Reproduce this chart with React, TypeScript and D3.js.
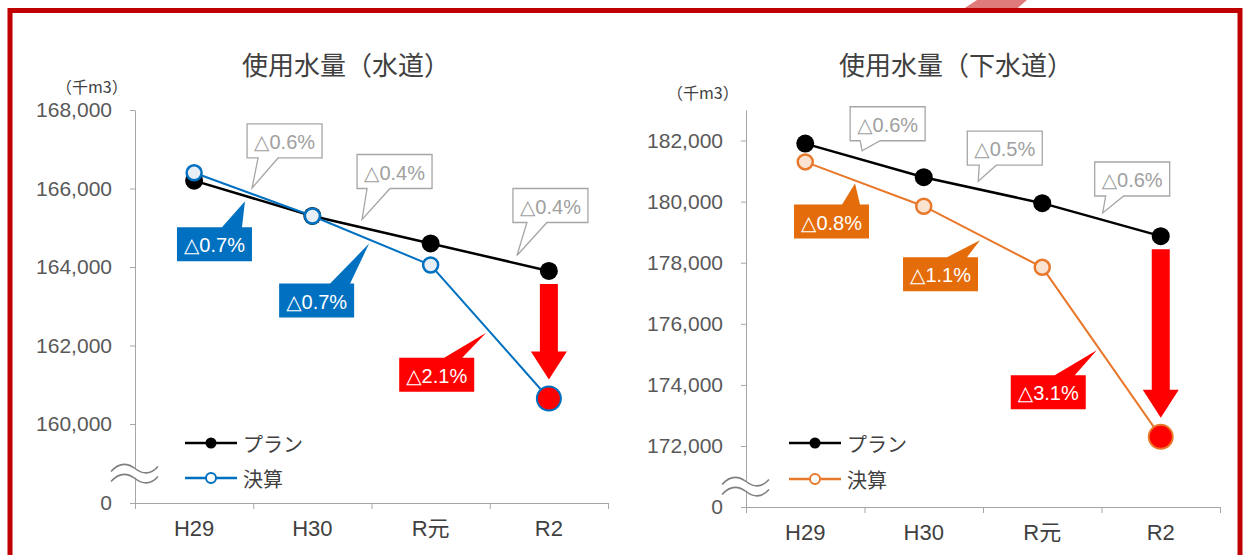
import React, { useEffect, useRef } from 'react';
import * as d3 from 'd3';

const categories = ['H29', 'H30', 'R元', 'R2'];
const seriesNames = ['プラン', '決算'];

// 水道
const waterPlan = [166200, 165300, 164600, 163900];
const waterActual = [166400, 165300, 164050, 160650];
const waterPlanChange = ['△0.6%', '△0.4%', '△0.4%'];
const waterActualChange = ['△0.7%', '△0.7%', '△2.1%'];
const waterTicks = [0, 160000, 162000, 164000, 166000, 168000];

// 下水道
const sewerPlan = [181900, 180800, 179950, 178870];
const sewerActual = [181300, 179850, 177850, 172300];
const sewerPlanChange = ['△0.6%', '△0.5%', '△0.6%'];
const sewerActualChange = ['△0.8%', '△1.1%', '△3.1%'];
const sewerTicks = [0, 172000, 174000, 176000, 178000, 180000, 182000];

const W = 1244,
  H = 555;
const LATIN = '"Liberation Sans", Arial, "DejaVu Sans", "Noto Sans CJK JP", sans-serif';
const CJK = '"Noto Sans CJK JP", "Noto Sans", sans-serif';
const TEXT = '#404040';
const AXIS = '#a6a6a6';
const RED = '#ff0000';

type Callout = { t: number; off: number; dx: number; dy: number; b0: number; b1: number };

type PanelProps = {
  title: string;
  plan: number[];
  actual: number[];
  planChange: string[];
  actualChange: string[];
  ticks: number[];
  yDomain: number[];
  yRange: number[];
  xRange: [number, number];
  color: string;
  boxColor: string;
  markerFill: string;
  titleX: number;
  unitX: number;
  unitY: number;
  legendX: number;
  legendY: number[];
  planCallouts: Callout[];
  actualCallouts: Callout[];
};

const BOX_W = 75,
  BOX_H = 34;

function calloutPath(bx: number, by: number, b0: number, b1: number, tx: number, ty: number, side: string) {
  if (side === 'bottom') {
    return `M${bx},${by}H${bx + BOX_W}V${by + BOX_H}H${bx + b1}L${tx},${ty}L${bx + b0},${by + BOX_H}H${bx}Z`;
  }
  return `M${bx},${by}H${bx + b0}L${tx},${ty}L${bx + b1},${by}H${bx + BOX_W}V${by + BOX_H}H${bx}Z`;
}

function Panel(p: PanelProps) {
  const yAxisRef = useRef<SVGGElement>(null);
  const xAxisRef = useRef<SVGGElement>(null);

  const x = d3.scaleBand().domain(categories).range(p.xRange).paddingInner(0).paddingOuter(0);
  const y = d3.scaleLinear().domain(p.yDomain).range(p.yRange);
  const bw = x.bandwidth();
  const cx = (i: number) => (x(categories[i]) as number) + bw / 2;
  const y0 = p.yRange[0];

  useEffect(() => {
    const ga = d3.select(yAxisRef.current);
    ga.call(
      d3
        .axisLeft(y)
        .tickValues(p.ticks)
        .tickSize(5)
        .tickSizeOuter(0)
        .tickPadding(18)
        .tickFormat(d3.format(','))
    );
    ga.attr('font-size', null).attr('font-family', null);
    ga.select('.domain').attr('stroke', AXIS);
    ga.selectAll('.tick line').attr('stroke', AXIS);
    ga.selectAll('.tick text')
      .attr('fill', '#595959')
      .style('font-size', '21px')
      .style('font-family', LATIN);

    const gx = d3.select(xAxisRef.current);
    gx.call(d3.axisBottom(x).tickSize(0).tickSizeOuter(0).tickPadding(17));
    gx.attr('font-size', null).attr('font-family', null);
    gx.select('.domain').attr('stroke', AXIS);
    gx.selectAll('.tick text')
      .attr('fill', TEXT)
      .style('font-size', '22px')
      .style('font-family', LATIN);
  }, []);

  const line = d3
    .line<number>()
    .x((d, i) => cx(i))
    .y(d => y(d));

  const boundaries = categories.map(c => x(c) as number).concat([p.xRange[1]]);

  const tip = (vals: number[], i: number, c: Callout) => {
    const tx = cx(i) + c.t * bw;
    const ty = y(vals[i]) + c.t * (y(vals[i + 1]) - y(vals[i])) + c.off;
    return [tx, ty];
  };

  // break mark between 0 and the first real tick
  const bx = p.xRange[0];
  const by = (y(0) + y(p.yDomain[1])) / 2 + 5;
  const wave = (yy: number) =>
    `M${bx - 24},${yy + 3}C${bx - 16},${yy - 6} ${bx - 8},${yy - 6} ${bx},${yy}S${bx + 16},${yy + 6} ${bx + 23},${yy - 2}`;

  const last = categories.length - 1;
  const arrowX = cx(last);
  const aTop = y(p.plan[last]) + 13;
  const aTip = y(p.actual[last]) - 19;
  const aHead = aTip - 28;

  return (
    <g>
      <text
        x={p.titleX}
        y={63}
        textAnchor="middle"
        dominantBaseline="central"
        fontFamily={CJK}
        fontSize={26}
        fill={TEXT}
      >
        {p.title}
      </text>
      <text x={p.unitX} y={p.unitY} dominantBaseline="central" fontFamily={CJK} fontSize={16} fill={TEXT}>
        （千m3）
      </text>

      <g ref={yAxisRef} transform={`translate(${p.xRange[0]},0)`} />
      <g ref={xAxisRef} transform={`translate(0,${y0})`} />
      {boundaries.map((bxx, i) => (
        <line key={i} x1={bxx + 0.5} x2={bxx + 0.5} y1={y0} y2={y0 + 6} stroke={AXIS} />
      ))}

      {/* axis break */}
      <rect x={bx - 3} y={by} width={6} height={9} fill="#fff" />
      <path d={wave(by)} fill="none" stroke="#7f7f7f" strokeWidth={1.5} />
      <path d={wave(by + 10)} fill="none" stroke="#7f7f7f" strokeWidth={1.5} />

      {/* series */}
      <path d={line(p.plan) as string} fill="none" stroke="#000" strokeWidth={2.5} />
      {p.plan.map((v, i) => (
        <circle key={'p' + i} cx={cx(i)} cy={y(v)} r={9} fill="#000" />
      ))}
      <path d={line(p.actual) as string} fill="none" stroke={p.color} strokeWidth={2} />
      {p.actual.map((v, i) =>
        i === last ? (
          <circle key={'a' + i} cx={cx(i)} cy={y(v)} r={12} fill={RED} stroke={p.color} strokeWidth={2} />
        ) : (
          <circle key={'a' + i} cx={cx(i)} cy={y(v)} r={7.5} fill={p.markerFill} stroke={p.color} strokeWidth={2.5} />
        )
      )}

      {/* red arrow */}
      <path
        d={`M${arrowX - 9},${aTop}H${arrowX + 9}V${aHead}H${arrowX + 18}L${arrowX},${aTip}L${arrowX - 18},${aHead}H${arrowX - 9}Z`}
        fill={RED}
      />

      {/* plan change callouts */}
      {p.planCallouts.map((c, i) => {
        const [tx, ty] = tip(p.plan, i, c);
        const bxx = tx + c.dx,
          byy = ty + c.dy;
        return (
          <g key={'pc' + i}>
            <path d={calloutPath(bxx, byy, c.b0, c.b1, tx, ty, 'bottom')} fill="#fff" stroke="#a6a6a6" strokeWidth={1.3} />
            <text
              x={bxx + BOX_W / 2}
              y={byy + BOX_H / 2 + 1}
              textAnchor="middle"
              dominantBaseline="central"
              fontFamily={LATIN}
              fontSize={20}
              fill="#a0a0a0"
            >
              {p.planChange[i]}
            </text>
          </g>
        );
      })}

      {/* actual change callouts */}
      {p.actualCallouts.map((c, i) => {
        const [tx, ty] = tip(p.actual, i, c);
        const bxx = tx + c.dx,
          byy = ty + c.dy;
        const fill = i === last - 1 ? RED : p.boxColor;
        return (
          <g key={'ac' + i}>
            <path d={calloutPath(bxx, byy, c.b0, c.b1, tx, ty, 'top')} fill={fill} />
            <text
              x={bxx + BOX_W / 2}
              y={byy + BOX_H / 2 + 1}
              textAnchor="middle"
              dominantBaseline="central"
              fontFamily={LATIN}
              fontSize={20}
              fill="#fff"
            >
              {p.actualChange[i]}
            </text>
          </g>
        );
      })}

      {/* legend */}
      {seriesNames.map((name, i) => {
        const ly = p.legendY[i];
        const mx = p.legendX + 26;
        return (
          <g key={'lg' + i}>
            <line
              x1={p.legendX}
              x2={p.legendX + 52}
              y1={ly}
              y2={ly}
              stroke={i === 0 ? '#000' : p.color}
              strokeWidth={2.5}
            />
            {i === 0 ? (
              <circle cx={mx} cy={ly} r={5.5} fill="#000" />
            ) : (
              <circle cx={mx} cy={ly} r={5} fill="#fff" stroke={p.color} strokeWidth={2} />
            )}
            <text
              x={p.legendX + 58}
              y={ly}
              dominantBaseline="central"
              fontFamily={CJK}
              fontSize={20}
              fill={TEXT}
            >
              {name}
            </text>
          </g>
        );
      })}
    </g>
  );
}

export default function App() {
  return (
    <svg
      width={W}
      height={H}
      style={{ position: 'absolute', left: 0, top: 0, background: '#fff' }}
    >
      <rect x={0} y={0} width={W} height={H} fill="#fff" />
      <path d="M977,0H1027L1012,13H957Z" fill="#e07b7b" />
      <rect x={10} y={10.5} width={1230} height={H} fill="none" stroke="#c00000" strokeWidth={5} />

      <Panel
        title="使用水量（水道）"
        plan={waterPlan}
        actual={waterActual}
        planChange={waterPlanChange}
        actualChange={waterActualChange}
        ticks={waterTicks}
        yDomain={[0, 160000, 168000]}
        yRange={[503, 424, 110]}
        xRange={[135, 608]}
        color="#0070c0"
        boxColor="#0070c0"
        markerFill="#e8eef6"
        titleX={346}
        unitX={56}
        unitY={86}
        legendX={185}
        legendY={[443, 478]}
        planCallouts={[
          { t: 0.49, off: -10, dx: -5, dy: -64, b0: 11, b1: 31 },
          { t: 0.42, off: -8, dx: -5, dy: -65, b0: 10, b1: 33 },
          { t: 0.73, off: -8, dx: -4, dy: -67, b0: 14, b1: 34 }
        ]}
        actualCallouts={[
          { t: 0.43, off: 10, dx: -68, dy: 26, b0: 45, b1: 65 },
          { t: 0.48, off: 4, dx: -90, dy: 40, b0: 51, b1: 71 },
          { t: 0.47, off: 5, dx: -87, dy: 25, b0: 45, b1: 63 }
        ]}
      />

      <Panel
        title="使用水量（下水道）"
        plan={sewerPlan}
        actual={sewerActual}
        planChange={sewerPlanChange}
        actualChange={sewerActualChange}
        ticks={sewerTicks}
        yDomain={[0, 172000, 183000]}
        yRange={[507, 446, 110]}
        xRange={[746, 1220]}
        color="#e8782b"
        boxColor="#e46c0a"
        markerFill="#fbe3d2"
        titleX={956}
        unitX={667}
        unitY={92}
        legendX={789}
        legendY={[443, 479]}
        planCallouts={[
          { t: 0.48, off: -9, dx: -12, dy: -44, b0: 10, b1: 30 },
          { t: 0.46, off: -8, dx: -11, dy: -50, b0: 12, b1: 29 },
          { t: 0.51, off: -7, dx: -8, dy: -51, b0: 11, b1: 29 }
        ]}
        actualCallouts={[
          { t: 0.42, off: 3, dx: -61, dy: 21, b0: 48, b1: 66 },
          { t: 0.475, off: 5, dx: -77, dy: 17, b0: 44, b1: 64 },
          { t: 0.46, off: 5, dx: -86, dy: 25, b0: 44, b1: 64 }
        ]}
      />
    </svg>
  );
}
